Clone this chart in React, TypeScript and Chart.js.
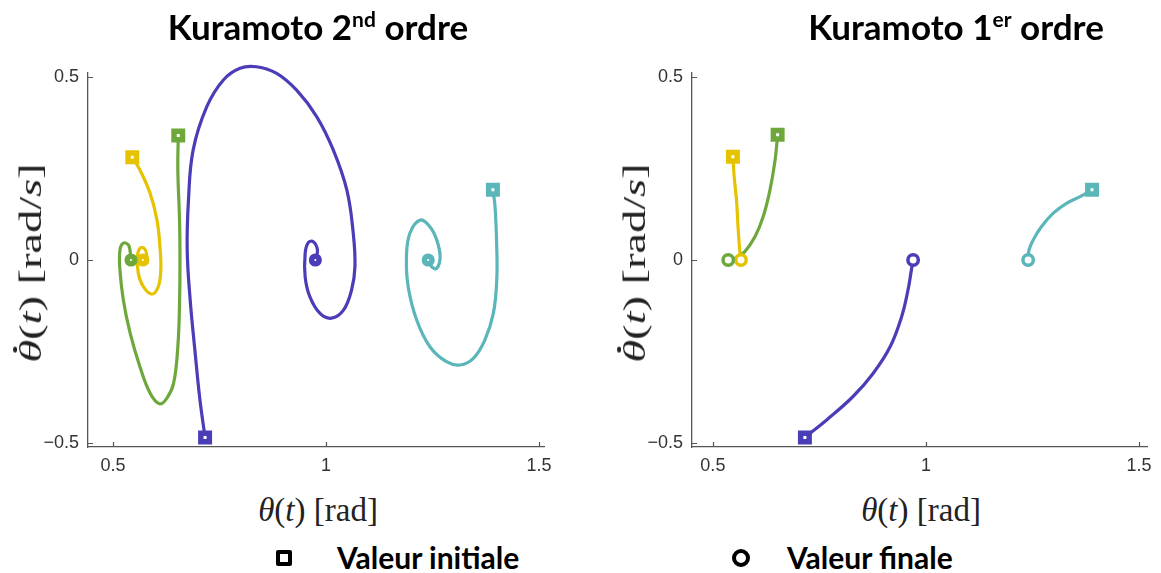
import React, { useEffect, useRef } from "react";
import { Chart, registerables } from "chart.js";
Chart.register(...registerables);

// ---------- data ----------
const xTicks = [0.5, 1, 1.5];
const yTicks = [-0.5, 0, 0.5];

const titles = ["Kuramoto 2", "Kuramoto 1"];
const titleSups = ["nd", "er"];
const legendLabels = ["Valeur initiale", "Valeur finale"];

// 2nd order (left)
const blue2X = [0.716, 0.704, 0.692, 0.681, 0.674, 0.677, 0.688, 0.72, 0.759, 0.798, 0.837, 0.884, 0.931, 0.978, 1.017, 1.049, 1.064, 1.068, 1.06, 1.041, 1.013, 0.986, 0.962, 0.951, 0.951, 0.958, 0.97, 0.98, 0.975];
const blue2Y = [-0.485, -0.383, -0.246, -0.109, 0.027, 0.164, 0.301, 0.419, 0.492, 0.524, 0.528, 0.51, 0.464, 0.392, 0.301, 0.191, 0.073, -0.018, -0.082, -0.137, -0.159, -0.146, -0.1, -0.046, 0.018, 0.047, 0.05, 0.027, 0.0];
const green2X = [0.653, 0.652, 0.656, 0.657, 0.656, 0.652, 0.642, 0.626, 0.609, 0.587, 0.563, 0.54, 0.524, 0.516, 0.516, 0.524, 0.536, 0.54, 0.542];
const green2Y = [0.34, 0.246, 0.109, 0.0, -0.118, -0.237, -0.337, -0.378, -0.393, -0.364, -0.292, -0.2, -0.109, -0.027, 0.027, 0.046, 0.041, 0.023, 0.0];
const yellow2X = [0.545, 0.563, 0.587, 0.603, 0.61, 0.612, 0.606, 0.591, 0.571, 0.559, 0.557, 0.563, 0.573, 0.579, 0.575, 0.57];
const yellow2Y = [0.281, 0.246, 0.182, 0.109, 0.036, -0.027, -0.073, -0.093, -0.073, -0.036, 0.009, 0.032, 0.032, 0.014, -0.005, 0.0];
const cyan2X = [1.392, 1.397, 1.401, 1.401, 1.393, 1.373, 1.346, 1.315, 1.283, 1.244, 1.213, 1.193, 1.189, 1.197, 1.221, 1.244, 1.26, 1.268, 1.26, 1.248, 1.24];
const cyan2Y = [0.192, 0.146, 0.036, -0.055, -0.146, -0.219, -0.269, -0.287, -0.278, -0.237, -0.164, -0.073, 0.009, 0.073, 0.109, 0.091, 0.055, 0.009, -0.023, -0.018, 0.0];

// 1st order (right)
const yellow1X = [0.547, 0.55, 0.556, 0.559, 0.563, 0.566];
const yellow1Y = [0.282, 0.228, 0.155, 0.091, 0.027, 0.0];
const green1X = [0.652, 0.646, 0.634, 0.618, 0.599, 0.575, 0.552, 0.536];
const green1Y = [0.342, 0.273, 0.191, 0.118, 0.064, 0.023, 0.005, 0.0];
const blue1X = [0.716, 0.767, 0.829, 0.876, 0.916, 0.943, 0.958, 0.966, 0.97];
const blue1Y = [-0.485, -0.437, -0.373, -0.31, -0.237, -0.155, -0.082, -0.027, 0.0];
const cyan1X = [1.39, 1.362, 1.33, 1.299, 1.271, 1.252, 1.242, 1.24];
const cyan1Y = [0.192, 0.173, 0.155, 0.128, 0.091, 0.055, 0.027, 0.0];

const BLUE = "#4b3db8";
const GREEN = "#6ea83c";
const YELLOW = "#e6c300";
const CYAN = "#5ab6b8";

type Series = { color: string; xs: number[]; ys: number[] };

const series2: Series[] = [
  { color: BLUE, xs: blue2X, ys: blue2Y },
  { color: GREEN, xs: green2X, ys: green2Y },
  { color: YELLOW, xs: yellow2X, ys: yellow2Y },
  { color: CYAN, xs: cyan2X, ys: cyan2Y },
];
const series1: Series[] = [
  { color: BLUE, xs: blue1X, ys: blue1Y },
  { color: GREEN, xs: green1X, ys: green1Y },
  { color: YELLOW, xs: yellow1X, ys: yellow1Y },
  { color: CYAN, xs: cyan1X, ys: cyan1Y },
];

const fmt = (v: number) => (v < 0 ? "\u2212" + String(-v) : String(v));

const inwardTicks = {
  id: "inwardTicks",
  beforeDatasetsDraw(chart: any) {
    const { ctx, chartArea, scales } = chart;
    ctx.save();
    ctx.strokeStyle = "#555";
    ctx.lineWidth = 1.2;
    ctx.beginPath();
    for (const v of xTicks) {
      const px = Math.round(scales.x.getPixelForValue(v)) + 0.5;
      ctx.moveTo(px, chartArea.bottom);
      ctx.lineTo(px, chartArea.bottom - 5);
    }
    for (const v of yTicks) {
      const py = Math.round(scales.y.getPixelForValue(v)) + 0.5;
      ctx.moveTo(chartArea.left, py);
      ctx.lineTo(chartArea.left + 5, py);
    }
    ctx.stroke();
    ctx.restore();
  },
};

type PlotProps = {
  series: Series[];
  left: number;
  width: number;
  height: number;
  areaLeft: number;
  areaRight: number;
  areaTop: number;
  areaBottom: number;
  xMin: number;
  xMax: number;
  hollowFinal: boolean;
};

function PhasePlot(p: PlotProps) {
  const ref = useRef<HTMLCanvasElement | null>(null);
  useEffect(() => {
    if (!ref.current) return;
    const datasets: any[] = [];
    p.series.forEach((s) => {
      const pts = s.xs.map((x, i) => ({ x, y: s.ys[i] }));
      datasets.push({
        data: pts,
        showLine: true,
        borderColor: s.color,
        borderWidth: 3.2,
        pointRadius: 0,
        tension: 0.4,
        fill: false,
        clip: false,
        order: 2,
      });
      datasets.push({
        data: [pts[0]],
        showLine: false,
        pointStyle: "rect",
        pointRadius: 6,
        pointBorderWidth: 5.5,
        pointBackgroundColor: "#ffffff",
        pointBorderColor: s.color,
        clip: false,
        order: 0,
      });
      datasets.push({
        data: [pts[pts.length - 1]],
        showLine: false,
        pointStyle: "circle",
        pointRadius: p.hollowFinal ? 5.2 : 3.8,
        pointBorderWidth: p.hollowFinal ? 3.5 : 5.5,
        pointBackgroundColor: "#ffffff",
        pointBorderColor: s.color,
        clip: false,
        order: 0,
      });
    });
    const tickFont = { family: "'Liberation Sans', Arial, sans-serif", size: 18 };
    const chart = new Chart(ref.current, {
      type: "scatter",
      data: { datasets },
      plugins: [inwardTicks],
      options: {
        animation: false,
        responsive: false,
        devicePixelRatio: 1,
        layout: { padding: { left: 0, top: p.areaTop, right: p.width - p.areaRight, bottom: 0 } },
        plugins: { legend: { display: false }, tooltip: { enabled: false }, title: { display: false } },
        scales: {
          x: {
            type: "linear",
            min: p.xMin,
            max: p.xMax,
            afterBuildTicks: (s: any) => {
              s.ticks = xTicks.map((v) => ({ value: v }));
            },
            afterFit: (s: any) => {
              s.height = p.height - p.areaBottom;
            },
            ticks: { callback: (v: any) => fmt(Number(v)), font: tickFont, color: "#333", padding: 8, maxRotation: 0, autoSkip: false },
            grid: { display: false, drawTicks: false },
            border: { display: true, color: "#555", width: 1.3 },
          },
          y: {
            type: "linear",
            min: -0.511,
            max: 0.511,
            afterBuildTicks: (s: any) => {
              s.ticks = yTicks.map((v) => ({ value: v }));
            },
            afterFit: (s: any) => {
              s.width = p.areaLeft;
            },
            ticks: { callback: (v: any) => fmt(Number(v)), font: tickFont, color: "#333", padding: 9, autoSkip: false },
            grid: { display: false, drawTicks: false },
            border: { display: true, color: "#555", width: 1.3 },
          },
        },
      } as any,
    });
    return () => chart.destroy();
  }, []);
  return (
    <canvas
      ref={ref}
      width={p.width}
      height={p.height}
      style={{ position: "absolute", left: p.left, top: 0, width: p.width, height: p.height }}
    />
  );
}

const serif = "'Liberation Serif', 'Times New Roman', serif";
const bold = "Lato, 'Open Sans', sans-serif";

function YLabel({ cx, cy }: { cx: number; cy: number }) {
  return (
    <div
      style={{
        position: "absolute",
        left: cx,
        top: cy,
        transform: "translate(-50%, -50%) rotate(-90deg) scaleX(1.45)",
        whiteSpace: "nowrap",
        fontFamily: serif,
        fontSize: 32,
        color: "#222",
        lineHeight: 1,
      }}
    >
      <span style={{ position: "relative", display: "inline-block" }}>
        <i>θ</i>
        <span
          style={{
            position: "absolute",
            left: "58%",
            top: "-0.02em",
            width: 4,
            height: 4,
            borderRadius: "50%",
            background: "#222",
            transform: "translateX(-50%)",
          }}
        />
      </span>
      (<i>t</i>) [rad/<i>s</i>]
    </div>
  );
}

function XLabel({ cx, cy }: { cx: number; cy: number }) {
  return (
    <div
      style={{
        position: "absolute",
        left: cx,
        top: cy,
        transform: "translate(-50%, -50%)",
        whiteSpace: "nowrap",
        fontFamily: serif,
        fontSize: 33,
        color: "#222",
        lineHeight: 1,
      }}
    >
      <i>θ</i>(<i>t</i>) [rad]
    </div>
  );
}

function Title({ cx, text, sup }: { cx: number; text: string; sup: string }) {
  return (
    <div
      style={{
        position: "absolute",
        left: cx,
        top: 26,
        transform: "translate(-50%, -50%)",
        whiteSpace: "nowrap",
        fontFamily: bold,
        fontWeight: 700,
        fontSize: 35,
        color: "#000",
        lineHeight: 1,
      }}
    >
      {text}
      <sup style={{ fontSize: 21, verticalAlign: "13px", lineHeight: 0 }}>{sup}</sup> ordre
    </div>
  );
}

export default function App() {
  return (
    <div style={{ position: "absolute", left: 0, top: 0, width: 1161, height: 573, background: "#fff", overflow: "hidden" }}>
      <PhasePlot series={series2} left={0} width={580} height={490} areaLeft={88} areaRight={544} areaTop={73} areaBottom={447} xMin={0.441} xMax={1.512} hollowFinal={false} />
      <PhasePlot series={series1} left={580} width={581} height={490} areaLeft={112} areaRight={567} areaTop={73} areaBottom={447} xMin={0.451} xMax={1.519} hollowFinal={true} />
      <Title cx={318} text={titles[0]} sup={titleSups[0]} />
      <Title cx={956} text={titles[1]} sup={titleSups[1]} />
      <YLabel cx={30} cy={263} />
      <YLabel cx={634} cy={263} />
      <XLabel cx={318} cy={510} />
      <XLabel cx={921} cy={510} />
      <div style={{ position: "absolute", left: 276, top: 550, width: 16, height: 16, boxSizing: "border-box", border: "4px solid #000", borderRadius: 2 }} />
      <div style={{ position: "absolute", left: 337, top: 557, transform: "translateY(-50%)", fontFamily: bold, fontWeight: 700, fontSize: 30, lineHeight: 1, whiteSpace: "nowrap" }}>
        {legendLabels[0]}
      </div>
      <div style={{ position: "absolute", left: 732, top: 549, width: 18, height: 18, boxSizing: "border-box", border: "4px solid #000", borderRadius: "50%" }} />
      <div style={{ position: "absolute", left: 787, top: 557, transform: "translateY(-50%)", fontFamily: bold, fontWeight: 700, fontSize: 30, lineHeight: 1, whiteSpace: "nowrap" }}>
        {legendLabels[1]}
      </div>
    </div>
  );
}
